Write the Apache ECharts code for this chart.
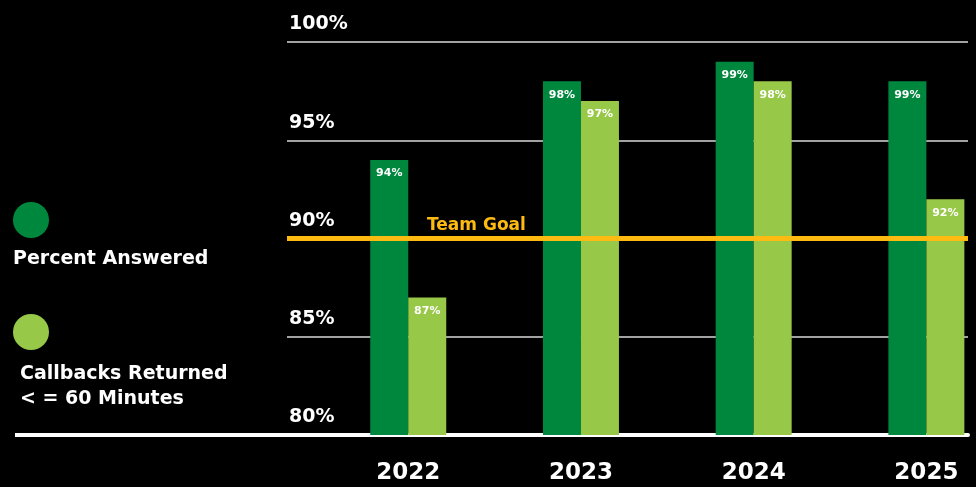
<!DOCTYPE html>
<html>
<head>
<meta charset="utf-8">
<script src="https://cdn.jsdelivr.net/npm/echarts@6/dist/echarts.min.js"></script>
<style>
  html, body { margin: 0; padding: 0; background: #000; }
  #main { width: 976px; height: 487px; }
</style>
</head>
<body>
<div id="main"></div>
<script>
// data
var years = [2022, 2023, 2024, 2025];
var answered = [94, 98, 99, 98];          // Percent Answered (bar heights)
var answeredLabels = ['94%', '98%', '99%', '99%'];
var callbacks = [87, 97, 98, 92];         // Callbacks Returned <= 60 Minutes
var callbackLabels = ['87%', '97%', '98%', '92%'];
var yTicks = [80, 85, 90, 95, 100];
var teamGoal = 90;

var FONT = '"DejaVu Sans"';
var DARK = '#00873E';
var LIGHT = '#97C847';
var GOLD = '#FDBB12';

var myChart = echarts.init(document.getElementById('main'));

function pairs(vals) {
    return vals.map(function (v, i) { return [years[i], v]; });
}

var option = {
    backgroundColor: '#000',
    animation: false,
    textStyle: { fontFamily: FONT },
    grid: { left: 287, right: 8, top: 42, bottom: 52 },
    xAxis: {
        type: 'value',
        min: 2021.298,
        max: 2025.241,
        splitLine: { show: false },
        axisTick: { show: false },
        axisLine: { show: true, lineStyle: { color: '#fff', width: 4 } },
        axisLabel: {
            customValues: years,
            formatter: function (v) { return String(v); },
            color: '#fff',
            fontFamily: FONT,
            fontWeight: 'bold',
            fontSize: 23,
            margin: 27
        }
    },
    yAxis: {
        type: 'value',
        min: 80,
        max: 100,
        interval: 5,
        axisLine: { show: false },
        axisTick: { show: false },
        splitLine: { lineStyle: { color: '#d8d8d8', width: 1.5 } },
        axisLabel: {
            inside: true,
            margin: 2,
            verticalAlign: 'bottom',
            padding: [0, 0, 8, 0],
            color: '#fff',
            fontFamily: FONT,
            fontWeight: 'bold',
            fontSize: 19,
            formatter: function (v) { return yTicks.indexOf(v) >= 0 ? v + '%' : ''; }
        }
    },
    series: [
        {
            name: 'Percent Answered',
            type: 'bar',
            data: pairs(answered),
            barWidth: 38,
            barGap: '0%',
            itemStyle: { color: DARK },
            label: {
                show: true,
                position: 'insideTop',
                distance: 8,
                color: '#fff',
                fontFamily: FONT,
                fontWeight: 'bold',
                fontSize: 11,
                formatter: function (p) { return answeredLabels[p.dataIndex]; }
            }
        },
        {
            name: 'Callbacks Returned < = 60 Minutes',
            type: 'bar',
            data: pairs(callbacks),
            barWidth: 38,
            barGap: '0%',
            itemStyle: { color: LIGHT },
            label: {
                show: true,
                position: 'insideTop',
                distance: 8,
                color: '#fff',
                fontFamily: FONT,
                fontWeight: 'bold',
                fontSize: 11,
                formatter: function (p) { return callbackLabels[p.dataIndex]; }
            },
            markLine: {
                silent: true,
                symbol: 'none',
                z: 10,
                lineStyle: { color: GOLD, width: 5, type: 'solid' },
                label: {
                    show: true,
                    position: 'insideStartTop',
                    distance: [140, 4],
                    formatter: 'Team Goal',
                    color: GOLD,
                    fontFamily: FONT,
                    fontWeight: 'bold',
                    fontSize: 17
                },
                data: [{ yAxis: teamGoal }]
            }
        }
    ],
    graphic: [
        // baseline extension to the left of the plot
        { type: 'line', shape: { x1: 15, y1: 435, x2: 290, y2: 435 }, style: { stroke: '#fff', lineWidth: 4 } },
        // legend
        { type: 'circle', shape: { cx: 31, cy: 220, r: 18 }, style: { fill: DARK } },
        { type: 'text', left: 13, top: 250, style: { text: 'Percent Answered', fill: '#fff', font: 'bold 19px ' + FONT } },
        { type: 'circle', shape: { cx: 31, cy: 332, r: 18 }, style: { fill: LIGHT } },
        { type: 'text', left: 20, top: 362, style: { text: 'Callbacks Returned\n< = 60 Minutes', fill: '#fff', font: 'bold 19px ' + FONT, lineHeight: 25 } }
    ]
};

myChart.setOption(option);
</script>
</body>
</html>
